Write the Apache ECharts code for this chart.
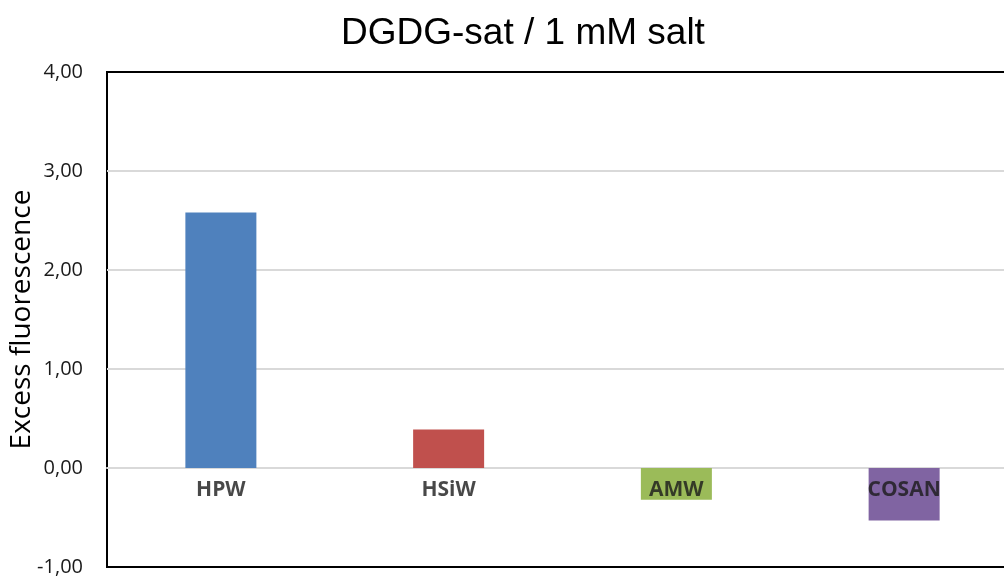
<!DOCTYPE html>
<html>
<head>
<meta charset="utf-8">
<script src="https://cdn.jsdelivr.net/npm/echarts@6/dist/echarts.min.js"></script>
<style>html,body{margin:0;padding:0;background:#fff}#c{width:1004px;height:577px}</style>
</head>
<body>
<div id="c"></div>
<script>
var categories = ['HPW', 'HSiW', 'AMW', 'COSAN'];
var values = [2.58, 0.39, -0.32, -0.53];
var colors = ['#4f81bd', '#c0504d', '#9bbb59', '#8064a2'];
var yTicks = { min: -1, max: 4, interval: 1 };

var chart = echarts.init(document.getElementById('c'), null, { renderer: 'canvas' });
chart.setOption({
  backgroundColor: '#ffffff',
  animation: false,
  title: {
    text: 'DGDG-sat / 1 mM salt',
    left: 336,
    top: 10,
    textStyle: { fontFamily: 'Liberation Sans', fontSize: 37, fontWeight: 'normal', color: '#000' }
  },
  grid: {
    left: 107, top: 72, bottom: 10, right: -14,
    outerBoundsMode: 'none',
    containLabel: false,
    show: true, borderColor: '#000', borderWidth: 2, backgroundColor: 'transparent'
  },
  xAxis: {
    type: 'category',
    data: categories,
    axisLine: { show: true, onZero: true, lineStyle: { color: '#d9d9d9', width: 2 } },
    axisTick: { show: false },
    axisLabel: { show: false },
    splitLine: { show: false }
  },
  yAxis: {
    type: 'value',
    min: yTicks.min, max: yTicks.max, interval: yTicks.interval,
    name: 'Excess fluorescence',
    nameLocation: 'middle',
    nameRotate: 90,
    nameGap: 71,
    nameMoveOverlap: false,
    nameTextStyle: { fontFamily: 'Open Sans', fontSize: 28, color: '#000' },
    axisLine: { show: false },
    axisTick: { show: false },
    axisLabel: {
      margin: 24,
      fontFamily: 'Open Sans', fontSize: 20, color: '#1a1a1a',
      formatter: function (v) { return v.toFixed(2).replace('.', ','); }
    },
    splitLine: { show: true, showMinLine: false, showMaxLine: false, lineStyle: { color: '#d9d9d9', width: 2 } }
  },
  series: [{
    type: 'bar',
    barWidth: 71,
    z: 2,
    data: values.map(function (v, i) { return { value: v, itemStyle: { color: colors[i] } }; })
  }, {
    type: 'scatter',
    z: 10,
    symbolSize: 0,
    silent: true,
    data: categories.map(function (c) { return [c, 0]; }),
    label: {
      show: true,
      position: 'bottom',
      distance: 12,
      formatter: function (p) { return p.data[0]; },
      fontFamily: 'Open Sans', fontSize: 21, fontWeight: 'bold', color: '#1a1a1a'
    }
  }]
});
</script>
</body>
</html>
